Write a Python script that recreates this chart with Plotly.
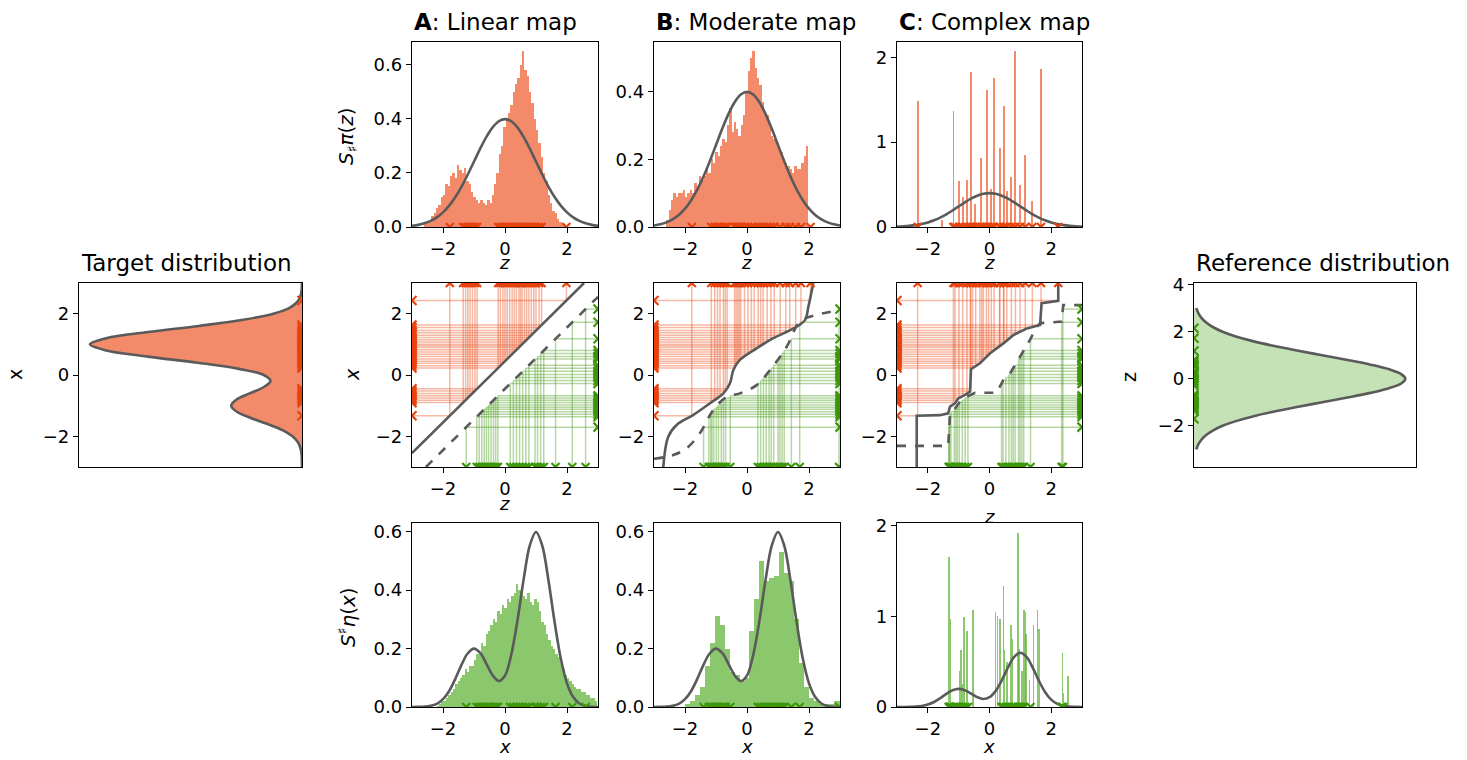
import numpy as np
import plotly.graph_objects as go

W, H = 1467, 760
LO, HI = -3.0, 3.0

# ---- density curves, read on a 0.2 grid from -3 to 3 ----
grid = np.round(np.arange(-3.0, 3.0001, 0.2), 2)
target_pdf = [0.0001, 0.0003, 0.0012, 0.004, 0.011, 0.027, 0.055, 0.097, 0.145, 0.184,
              0.200, 0.185, 0.148, 0.109, 0.089, 0.108, 0.178, 0.295, 0.436, 0.553,
              0.599, 0.553, 0.435, 0.291, 0.166, 0.081, 0.034, 0.012, 0.0036, 0.0009,
              0.0002]
normal_pdf = [0.0044, 0.0079, 0.0136, 0.0224, 0.0355, 0.054, 0.079, 0.1109, 0.1497, 0.1942,
              0.242, 0.2897, 0.3332, 0.3683, 0.391, 0.3989, 0.391, 0.3683, 0.3332, 0.2897,
              0.242, 0.1942, 0.1497, 0.1109, 0.079, 0.054, 0.0355, 0.0224, 0.0136, 0.0079,
              0.0044]

# ---- histograms (bin start, bin width, heights) ----
top_a_start, top_a_w = -2.6, 0.075
top_a_hist = [0.01, 0.02, 0.02, 0.04, 0.05, 0.07, 0.08, 0.11, 0.12, 0.16,
              0.15, 0.19, 0.20, 0.18, 0.23, 0.21, 0.20, 0.22, 0.17, 0.16,
              0.13, 0.11, 0.10, 0.09, 0.10, 0.09, 0.08, 0.10, 0.09, 0.12,
              0.16, 0.20, 0.27, 0.30, 0.37, 0.40, 0.42, 0.45, 0.50, 0.53,
              0.55, 0.60, 0.65, 0.58, 0.56, 0.50, 0.46, 0.40, 0.36, 0.31,
              0.26, 0.20, 0.17, 0.12, 0.09, 0.06, 0.05, 0.03, 0.02, 0.01,
              0.005]
top_b_start, top_b_w = -2.6, 0.075
top_b_hist = [0.02, 0.05, 0.08, 0.10, 0.09, 0.10, 0.10, 0.11, 0.09, 0.10,
              0.11, 0.10, 0.13, 0.12, 0.15, 0.14, 0.15, 0.17, 0.16, 0.20,
              0.19, 0.22, 0.21, 0.24, 0.26, 0.25, 0.30, 0.35, 0.28, 0.31,
              0.29, 0.27, 0.30, 0.33, 0.40, 0.46, 0.50, 0.52, 0.47, 0.44,
              0.42, 0.37, 0.34, 0.33, 0.30, 0.27, 0.26, 0.25, 0.23, 0.22,
              0.20, 0.19, 0.18, 0.17, 0.16, 0.18, 0.17, 0.17, 0.19, 0.21,
              0.24]
top_c_pos = [-2.33, -1.55, -1.17, -0.99, -0.87, -0.73, -0.59, -0.48, -0.27, -0.08, 0.06,
             0.15, 0.33, 0.46, 0.56, 0.71, 0.84, 0.99, 1.16, 1.39, 1.67, 2.2]
top_c_hist = [1.49, 0.08, 1.37, 0.54, 0.35, 0.55, 1.83, 0.27, 0.81, 1.61, 0.45,
              1.75, 0.93, 1.43, 0.43, 0.59, 2.07, 0.49, 0.85, 0.31, 1.86, 0.05]

bot_a_start, bot_a_w = -2.2, 0.075
bot_a_hist = [0.005, 0.01, 0.02, 0.02, 0.03, 0.04, 0.05, 0.06, 0.08, 0.09,
              0.10, 0.11, 0.13, 0.12, 0.14, 0.14, 0.16, 0.18, 0.19, 0.22,
              0.21, 0.25, 0.26, 0.28, 0.30, 0.29, 0.33, 0.32, 0.35, 0.34,
              0.37, 0.36, 0.38, 0.39, 0.42, 0.40, 0.41, 0.38, 0.37, 0.39,
              0.36, 0.35, 0.37, 0.36, 0.33, 0.29, 0.28, 0.25, 0.23, 0.21,
              0.20, 0.18, 0.17, 0.15, 0.13, 0.11, 0.10, 0.09, 0.08, 0.07,
              0.06, 0.06, 0.05, 0.05, 0.04, 0.04, 0.03, 0.03, 0.02]
bot_b_start, bot_b_w = -2.0, 0.16
bot_b_hist = [0.01, 0.02, 0.04, 0.07, 0.14, 0.22, 0.31, 0.28, 0.20, 0.12,
              0.11, 0.09, 0.10, 0.26, 0.37, 0.50, 0.43, 0.44, 0.45, 0.53,
              0.46, 0.43, 0.30, 0.15, 0.07, 0.03, 0.02, 0.01, 0.01, 0.01,
              0.02, 0.02]
bot_c_pos = [-1.31, -1.27, -0.97, -0.93, -0.87, -0.82, -0.73, -0.53, 0.19, 0.26, 0.34,
             0.45, 0.48, 0.56, 0.69, 0.74, 0.93, 0.96, 1.05, 1.11, 1.16, 1.19, 1.3,
             1.42, 1.55, 1.6, 2.36, 2.4, 2.54]
bot_c_hist = [1.66, 0.97, 0.40, 0.63, 0.25, 0.99, 0.84, 1.07, 1.05, 1.00, 0.97,
              1.34, 0.63, 0.50, 0.90, 0.75, 1.92, 0.64, 0.40, 1.07, 1.05, 0.80, 0.30,
              0.90, 1.07, 0.86, 0.60, 0.15, 0.34]

# ---- samples ----
target_x = [2.43, 1.63, 1.55, 1.45, 1.38, 1.3, 1.22, 1.15, 1.08, 1.0, 0.95, 0.9, 0.82,
            0.75, 0.68, 0.6, 0.52, 0.45, 0.38, 0.3, 0.23, -0.45, -0.52, -0.6, -0.68,
            -0.75, -0.82, -0.9, -1.33]
red_z_a = [1.98, 1.18, 1.10, 1.00, 0.93, 0.85, 0.77, 0.70, 0.63, 0.55, 0.50, 0.45, 0.37,
           0.30, 0.23, 0.15, 0.07, 0.00, -0.07, -0.15, -0.22, -0.90, -0.97, -1.05, -1.13,
           -1.20, -1.27, -1.35, -1.78]
red_z_b = [2.05, 1.74, 1.57, 1.38, 1.25, 1.07, 0.88, 0.77, 0.65, 0.52, 0.44, 0.36, 0.23,
           0.14, 0.03, -0.08, -0.20, -0.25, -0.30, -0.35, -0.40, -0.64, -0.70, -0.76, -0.87,
           -0.95, -1.04, -1.15, -1.78]
red_z_c = [2.23, 1.67, 1.39, 1.16, 0.99, 0.84, 0.71, 0.56, 0.46, 0.46, 0.33, 0.33, 0.15,
           0.06, -0.03, -0.10, -0.2, -0.25, -0.31, -0.45, -0.55, -0.61, -0.62, -0.73, -0.87,
           -0.99, -1.12, -1.17, -2.33]

ref_z = [2.15, 1.72, 1.18, 0.8, 0.7, 0.6, 0.52, 0.32, 0.22, 0.12, 0.02, -0.08, -0.18,
         -0.28, -0.68, -0.75, -0.82, -0.9, -0.98, -1.05, -1.12, -1.2, -1.28, -1.36, -1.7]
green_x_a = [2.60, 2.17, 1.63, 1.25, 1.15, 1.05, 0.97, 0.77, 0.67, 0.57, 0.47, 0.37, 0.27,
             0.17, -0.23, -0.30, -0.37, -0.45, -0.53, -0.60, -0.67, -0.75, -0.83, -0.91, -1.25]
green_x_b = [2.97, 1.70, 1.43, 1.20, 1.13, 1.06, 1.00, 0.86, 0.78, 0.71, 0.62, 0.53, 0.44,
             0.35, -0.54, -0.69, -0.76, -0.83, -0.92, -0.99, -1.07, -1.13, -1.17, -1.23, -1.40]
green_x_c = [2.38, 2.34, 1.33, 1.11, 1.05, 0.99, 0.94, 0.83, 0.77, 0.71, 0.63, 0.53, 0.44,
             0.39, -0.70, -0.79, -0.88, -0.98, -1.04, -1.09, -1.14, -1.25, -1.29, -1.31, -1.32]

# ---- maps (z, x) ----
map_a_solid = ([-3.0, 2.55], [-2.55, 3.0])
map_a_dash = ([-2.55, 3.0], [-3.0, 2.55])
map_b_solid = ([-2.70, -2.54, -2.27, -1.73, -1.19, -0.76, -0.55, -0.44, -0.23, 0.31, 0.85, 1.50, 1.87, 1.98, 2.14],
               [-3.0, -2.01, -1.63, -1.30, -0.92, -0.60, -0.27, 0.16, 0.49, 0.87, 1.20, 1.52, 1.79, 2.23, 3.0])
map_b_dash = ([-3.0, -2.38, -1.95, -1.52, -1.09, -0.65, -0.23, 0.31, 0.74, 1.28, 1.71, 2.25, 3.0],
              [-2.73, -2.61, -2.39, -1.90, -1.14, -0.71, -0.60, -0.33, 0.16, 0.92, 1.74, 1.96, 2.12])
map_c_solid = ([-2.36, -2.36, -1.61, -1.34, -1.28, -1.12, -1.01, -0.79, -0.63, -0.60, -0.31, 0.02, 0.45, 0.77, 1.21, 1.64, 1.69, 2.23, 2.23],
               [-3.0, -1.33, -1.31, -1.25, -1.03, -0.92, -0.76, -0.65, -0.54, 0.19, 0.38, 0.71, 1.03, 1.30, 1.52, 1.63, 2.34, 2.42, 3.0])
map_c_dash = ([-3.0, -1.34, -1.28, -1.12, -0.96, -0.74, -0.47, 0.23, 0.45, 0.67, 0.99, 1.31, 1.53, 1.64, 2.34, 2.39, 3.0],
              [-2.31, -2.31, -1.25, -1.09, -0.87, -0.71, -0.58, -0.58, -0.16, 0.06, 0.60, 1.14, 1.57, 1.69, 1.74, 2.28, 2.28])

# ---- styles ----
SALMON = "rgba(240,110,70,0.8)"
RED = "rgb(232,66,12)"
RED_LINE = "rgba(232,66,12,0.38)"
GREEN_BAR = "rgba(100,180,60,0.75)"
GREEN_LIGHT = "rgba(100,180,60,0.38)"
GREEN = "rgb(60,150,10)"
GREEN_LINE = "rgba(60,150,10,0.38)"
CURVE = "#5a5a5a"
FONT = "DejaVu Sans"

boxes = {
    1: (79, 302, 283, 467),
    2: (412, 598, 42, 227), 3: (654, 840, 42, 227), 4: (897, 1082, 42, 227),
    5: (412, 598, 283, 467), 6: (654, 840, 283, 467), 7: (897, 1082, 283, 467),
    8: (412, 598, 523, 707), 9: (654, 840, 523, 707), 10: (897, 1082, 523, 707),
    11: (1194, 1416, 283, 467),
}

fig = go.Figure()


def put(trace, k):
    trace.update(xaxis="x" if k == 1 else "x%d" % k, yaxis="y" if k == 1 else "y%d" % k)
    fig.add_trace(trace)


def rug(xs, ys, color, k, size=9):
    put(go.Scatter(x=xs, y=ys, mode="markers", cliponaxis=True, showlegend=False,
                   marker=dict(symbol="x-thin", size=size, line=dict(width=2.2, color=color))), k)


def curve(xs, ys, k, dash="solid", shape="spline"):
    put(go.Scatter(x=xs, y=ys, mode="lines", showlegend=False,
                   line=dict(color=CURVE, width=2.6, dash=dash, shape=shape)), k)


def bars(start, w, heights, color, k):
    centers = start + w * (np.arange(len(heights)) + 0.5)
    put(go.Bar(x=centers, y=heights, width=w, marker=dict(color=color, line=dict(width=0)),
               showlegend=False), k)


# target distribution (left)
put(go.Scatter(x=target_pdf, y=grid, mode="lines", fill="tozerox", fillcolor=SALMON,
               line=dict(width=0, shape="spline"), showlegend=False), 1)
curve(target_pdf, grid, 1)
rug([0] * len(target_x), target_x, RED, 1)

# reference distribution (right)
put(go.Scatter(x=normal_pdf, y=grid, mode="lines", fill="tozerox", fillcolor=GREEN_LIGHT,
               line=dict(width=0, shape="spline"), showlegend=False), 11)
curve(normal_pdf, grid, 11)
rug([0] * len(ref_z), ref_z, GREEN, 11)

# top row: pushforward of target
bars(top_a_start, top_a_w, top_a_hist, SALMON, 2)
bars(top_b_start, top_b_w, top_b_hist, SALMON, 3)
put(go.Bar(x=top_c_pos, y=top_c_hist, width=0.06, marker=dict(color=SALMON, line=dict(width=0)),
           showlegend=False), 4)
for k, rz in ((2, red_z_a), (3, red_z_b), (4, red_z_c)):
    curve(grid, normal_pdf, k)
    rug(rz, [0] * len(rz), RED, k, size=8)

# bottom row: pullback of reference
bars(bot_a_start, bot_a_w, bot_a_hist, GREEN_BAR, 8)
bars(bot_b_start, bot_b_w, bot_b_hist, GREEN_BAR, 9)
put(go.Bar(x=bot_c_pos, y=bot_c_hist, width=0.05, marker=dict(color=GREEN_BAR, line=dict(width=0)),
           showlegend=False), 10)
for k, gx in ((8, green_x_a), (9, green_x_b), (10, green_x_c)):
    curve(grid, target_pdf, k)
    rug(gx, [0] * len(gx), GREEN, k, size=8)

# middle row: maps with sample connectors
maps = [
    (5, map_a_solid, map_a_dash, red_z_a, green_x_a, "linear"),
    (6, map_b_solid, map_b_dash, red_z_b, green_x_b, "spline"),
    (7, map_c_solid, map_c_dash, red_z_c, green_x_c, "linear"),
]
for k, solid, dashed, rz, gx, shape in maps:
    sx, sy = [], []
    for xv, zv in zip(target_x, rz):
        sx += [zv, zv, None, LO, zv, None]
        sy += [HI, xv, None, xv, xv, None]
    put(go.Scatter(x=sx, y=sy, mode="lines", line=dict(color=RED_LINE, width=1.5),
                   showlegend=False), k)
    gxs, gys = [], []
    for zv, wv in zip(ref_z, gx):
        gxs += [HI, wv, None, wv, wv, None]
        gys += [zv, zv, None, LO, zv, None]
    put(go.Scatter(x=gxs, y=gys, mode="lines", line=dict(color=GREEN_LINE, width=1.5),
                   showlegend=False), k)
    curve(solid[0], solid[1], k, shape=shape)
    curve(dashed[0], dashed[1], k, dash="dash", shape=shape)
    rug([LO] * len(target_x), target_x, RED, k)
    rug(rz, [HI] * len(rz), RED, k, size=8)
    rug([HI] * len(ref_z), ref_z, GREEN, k)
    rug(gx, [LO] * len(gx), GREEN, k, size=8)

# ---- axes ----
specs = {
    1: dict(xr=[0.63, 0], xt=None, yr=[-3, 3], yt=[-2, 0, 2], fmt=None),
    2: dict(xr=[-3, 3], xt=[-2, 0, 2], yr=[0, 0.684], yt=[0, 0.2, 0.4, 0.6], fmt=".1f"),
    3: dict(xr=[-3, 3], xt=[-2, 0, 2], yr=[0, 0.546], yt=[0, 0.2, 0.4], fmt=".1f"),
    4: dict(xr=[-3, 3], xt=[-2, 0, 2], yr=[0, 2.18], yt=[0, 1, 2], fmt=None),
    5: dict(xr=[-3, 3], xt=[-2, 0, 2], yr=[-3, 3], yt=[-2, 0, 2], fmt=None),
    6: dict(xr=[-3, 3], xt=[-2, 0, 2], yr=[-3, 3], yt=[-2, 0, 2], fmt=None),
    7: dict(xr=[-3, 3], xt=[-2, 0, 2], yr=[-3, 3], yt=[-2, 0, 2], fmt=None),
    8: dict(xr=[-3, 3], xt=[-2, 0, 2], yr=[0, 0.63], yt=[0, 0.2, 0.4, 0.6], fmt=".1f"),
    9: dict(xr=[-3, 3], xt=[-2, 0, 2], yr=[0, 0.63], yt=[0, 0.2, 0.4, 0.6], fmt=".1f"),
    10: dict(xr=[-3, 3], xt=[-2, 0, 2], yr=[0, 2.03], yt=[0, 1, 2], fmt=None),
    11: dict(xr=[0, 0.419], xt=None, yr=[-3.75, 4.07], yt=[-2, 0, 2, 4], fmt=None),
}

layout = dict(width=W, height=H, margin=dict(l=0, r=0, t=0, b=0, pad=0), autosize=False,
              paper_bgcolor="white", plot_bgcolor="white", barmode="overlay", bargap=0,
              font=dict(family=FONT, size=18, color="black"), showlegend=False)

base = dict(showline=True, mirror=True, linecolor="black", linewidth=1.3, showgrid=False,
            zeroline=False, ticks="outside", ticklen=5, tickwidth=1.3, tickcolor="black",
            automargin=False, tickfont=dict(family=FONT, size=18, color="black"))

for k, (l, r, t, b) in boxes.items():
    s = specs[k]
    xa = dict(base, domain=[l / W, r / W], range=s["xr"], anchor="y" if k == 1 else "y%d" % k)
    ya = dict(base, domain=[1 - b / H, 1 - t / H], range=s["yr"], anchor="x" if k == 1 else "x%d" % k,
              tickvals=s["yt"])
    if s["xt"] is None:
        xa.update(ticks="", showticklabels=False)
    else:
        xa.update(tickvals=s["xt"])
    if s["fmt"]:
        ya.update(tickformat=s["fmt"])
    layout["xaxis" if k == 1 else "xaxis%d" % k] = xa
    layout["yaxis" if k == 1 else "yaxis%d" % k] = ya

fig.update_layout(**layout)


def label(text, px, py, size=18, angle=0, anchor="center"):
    fig.add_annotation(text=text, x=px / W, y=1 - py / H, xref="paper", yref="paper",
                       showarrow=False, xanchor=anchor, yanchor="middle", textangle=angle,
                       font=dict(family=FONT, size=size, color="black"))


label("<b>A</b>: Linear map", 412, 22, size=23, anchor="left")
label("<b>B</b>: Moderate map", 654, 22, size=23, anchor="left")
label("<b>C</b>: Complex map", 897, 22, size=23, anchor="left")
label("Target distribution", 79, 263, size=23, anchor="left")
label("Reference distribution", 1194, 263, size=23, anchor="left")

for cx in (505, 747, 989):
    label("<i>z</i>", cx, 262)
    label("<i>x</i>", cx, 746)
label("<i>z</i>", 505, 504)
label("<i>z</i>", 989, 516)

label("<i>S</i><sub>♯</sub><i>π</i>(<i>z</i>)", 347, 136, size=20, angle=-90)
label("<i>S</i><sup>♯</sup><i>η</i>(<i>x</i>)", 347, 617, size=20, angle=-90)
label("<i>x</i>", 352, 375, size=19, angle=-90)
label("x", 15, 375, size=19, angle=-90)
label("z", 1129, 377, size=19, angle=-90)

fig.write_html("out.html", config={"displayModeBar": False},
               post_script="document.body.style.margin='0';")
